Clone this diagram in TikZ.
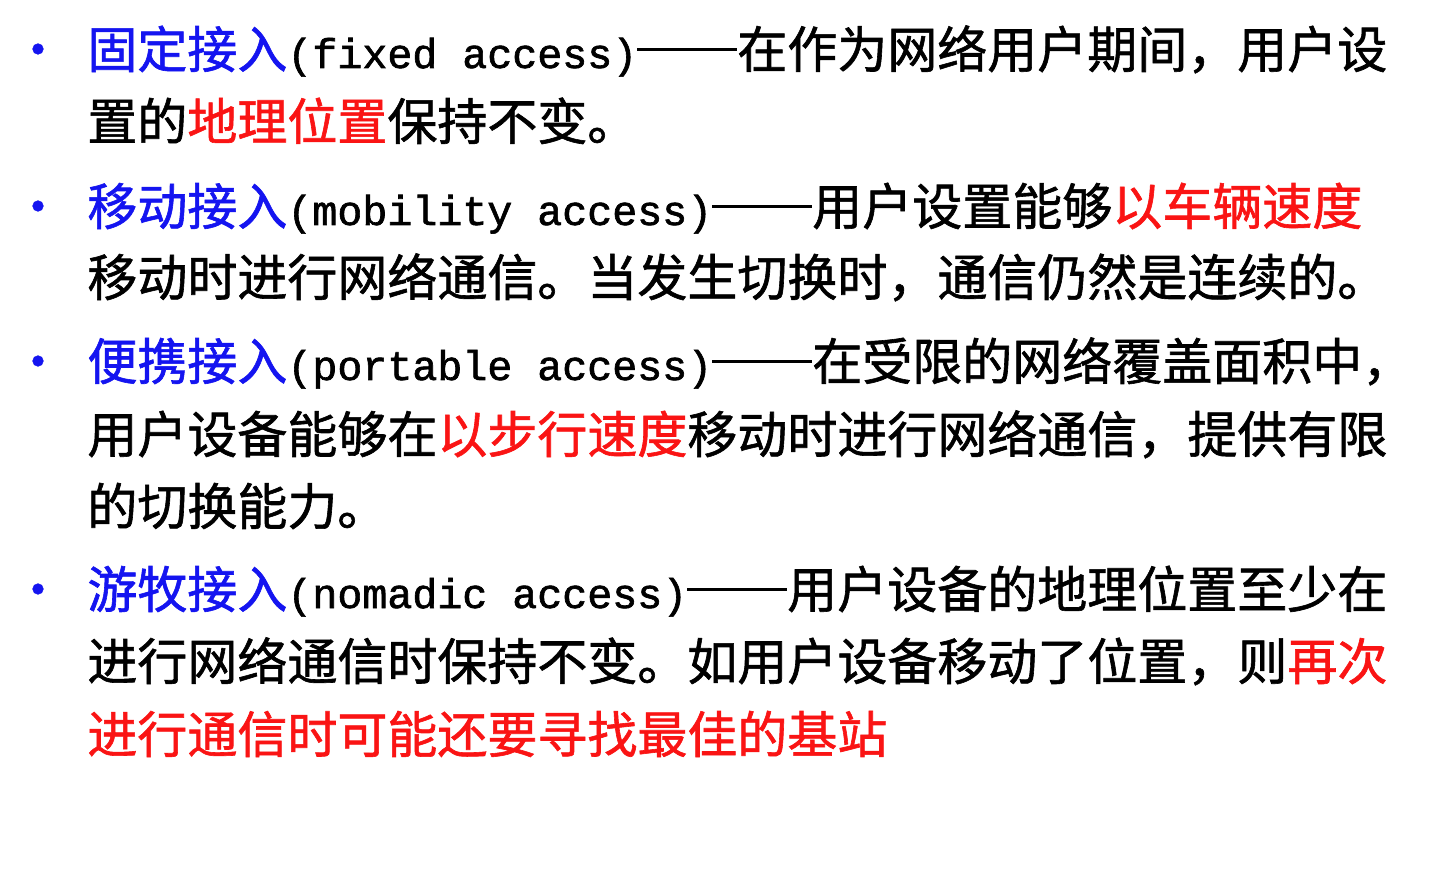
\documentclass[tikz,border=0pt]{standalone}
\usepackage{fontspec}
\setmainfont{Noto Sans CJK SC}[FakeBold=1.2]
\newfontfamily\monof{Liberation Mono}[Scale=0.833,FakeBold=1.5]
\definecolor{kb}{RGB}{20,20,240}
\definecolor{kr}{RGB}{250,20,20}
\newcommand\mo[1]{{\monof #1}}
\newcommand\bl[1]{\textcolor{kb}{#1}}
\newcommand\rd[1]{\textcolor{kr}{#1}}
\newcommand\dsh{\rule[0.34em]{50pt}{1.5pt}}
\tikzset{ln/.style={anchor=base west,inner sep=0pt,font=\fontsize{25pt}{30pt}\selectfont},
 bul/.style={anchor=base,inner sep=0pt,text=kb,font=\fontsize{25pt}{30pt}\selectfont}}
\begin{document}
\begin{tikzpicture}[x=0.5pt,y=-0.5pt]
\useasboundingbox[fill=white] (0,0) rectangle (1449,876);
\foreach \yy/\n in {68/1,225/2,380/3,608/4}{\node[bul] (b\n) at (38,\yy) {•};}
\node[ln] (l1) at (87,68) {\bl{固定接入}\mo{(fixed access)}\dsh 在作为网络用户期间，用户设};
\node[ln] (l2) at (87,140) {置的\rd{地理位置}保持不变。};
\node[ln] (l3) at (87,225) {\bl{移动接入}\mo{(mobility access)}\dsh 用户设置能够\rd{以车辆速度}};
\node[ln] (l4) at (87,296) {移动时进行网络通信。当发生切换时，通信仍然是连续的。};
\node[ln] (l5) at (87,380) {\bl{便携接入}\mo{(portable access)}\dsh 在受限的网络覆盖面积中，};
\node[ln] (l6) at (87,453) {用户设备能够在\rd{以步行速度}移动时进行网络通信，提供有限};
\node[ln] (l7) at (87,525) {的切换能力。};
\node[ln] (l8) at (87,608) {\bl{游牧接入}\mo{(nomadic access)}\dsh 用户设备的地理位置至少在};
\node[ln] (l9) at (87,680) {进行网络通信时保持不变。如用户设备移动了位置，则\rd{再次}};
\node[ln] (l10) at (87,753) {\rd{进行通信时可能还要寻找最佳的基站}};
\end{tikzpicture}
\end{document}
